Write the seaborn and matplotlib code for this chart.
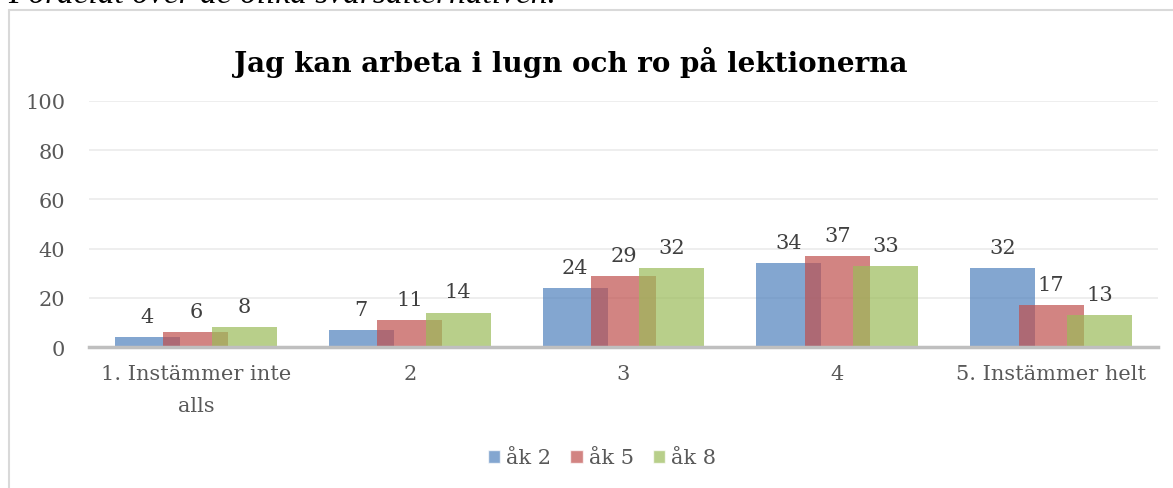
import numpy as np
import pandas as pd
import matplotlib
matplotlib.use("Agg")
import matplotlib.pyplot as plt
import seaborn as sns

# Data
categories = ["1. Instämmer inte\nalls", "2", "3", "4", "5. Instämmer helt"]
groups = ["åk 2", "åk 5", "åk 8"]
ak2 = [4, 7, 24, 34, 32]
ak5 = [6, 11, 29, 37, 17]
ak8 = [8, 14, 32, 33, 13]
y_ticks = [0, 20, 40, 60, 80, 100]

TITLE = "Jag kan arbeta i lugn och ro på lektionerna"
CAPTION = "Fördelat över de olika svarsalternativen."
COLORS = ["#4F81BD", "#C0504D", "#9BBB59"]
TEXT_COL = "#595959"

sns.set_theme(style="white")
plt.rcParams["font.family"] = ["DejaVu Serif", "DejaVu Sans"]

df = pd.DataFrame({
    "kategori": categories * 3,
    "andel": ak2 + ak5 + ak8,
    "grupp": [g for g in groups for _ in categories],
})

fig = plt.figure(figsize=(11.73, 4.89), dpi=100)
ax = fig.add_axes([89 / 1173, (489 - 348) / 489, (1158 - 89) / 1173, 246 / 489])

sns.barplot(data=df, x="kategori", y="andel", hue="grupp", order=categories,
            hue_order=groups, palette=COLORS, width=0.68, alpha=0.7,
            saturation=1, ax=ax, legend=True)

# Excel-style overlapping bars: widen each bar around its own center
for cont in ax.containers:
    for p in cont.patches:
        cx = p.get_x() + p.get_width() / 2
        p.set_width(0.304)
        p.set_x(cx - 0.152)
        p.set_edgecolor("none")

for cont, vals in zip(ax.containers, [ak2, ak5, ak8]):
    ax.bar_label(cont, labels=[str(v) for v in vals], padding=8,
                 fontsize=15, color="#404040")

ax.set_ylim(0, 100)
ax.set_xlim(-0.5, len(categories) - 0.5)
ax.set_yticks(y_ticks)
ax.set_yticklabels([str(t) for t in y_ticks])
ax.yaxis.grid(True, color="#EBEBEB", linewidth=1.2)
ax.set_axisbelow(True)
ax.tick_params(axis="y", length=0, pad=17, labelsize=15, labelcolor=TEXT_COL)
ax.tick_params(axis="x", length=0, pad=12, labelsize=15, labelcolor=TEXT_COL)
for lbl in ax.get_xticklabels():
    lbl.set_linespacing(1.9)
for s in ["top", "right", "left"]:
    ax.spines[s].set_visible(False)
ax.spines["bottom"].set_color("#BFBFBF")
ax.spines["bottom"].set_linewidth(2.5)
ax.set_xlabel("")
ax.set_ylabel("")

handles, labels = ax.get_legend_handles_labels()
ax.legend(handles, labels, loc="center", bbox_to_anchor=(602 / 1173, 1 - 459 / 489),
          bbox_transform=fig.transFigure, ncol=3, frameon=False,
          prop={"family": "DejaVu Serif", "size": 15},
          handlelength=0.6, handleheight=0.6, handletextpad=0.3,
          columnspacing=0.9, labelcolor=TEXT_COL)

fig.text(571 / 1173, 1 - 62 / 489, TITLE, ha="center", va="center",
         fontsize=20, fontweight="bold", color="black")

# caption from the surrounding document, cut off at the top edge
fig.text(8 / 1173, 1 - 3 / 489, CAPTION, ha="left", va="baseline",
         fontsize=24, style="italic", family="Liberation Serif", color="black")

# chart frame (top and left edges visible)
fig.add_artist(plt.Line2D([9 / 1173, 1], [1 - 11 / 489] * 2,
                          transform=fig.transFigure, color="#D9D9D9", lw=1.5))
fig.add_artist(plt.Line2D([9 / 1173] * 2, [0, 1 - 11 / 489],
                          transform=fig.transFigure, color="#D9D9D9", lw=1.5))

fig.savefig("out.png", dpi=100)
